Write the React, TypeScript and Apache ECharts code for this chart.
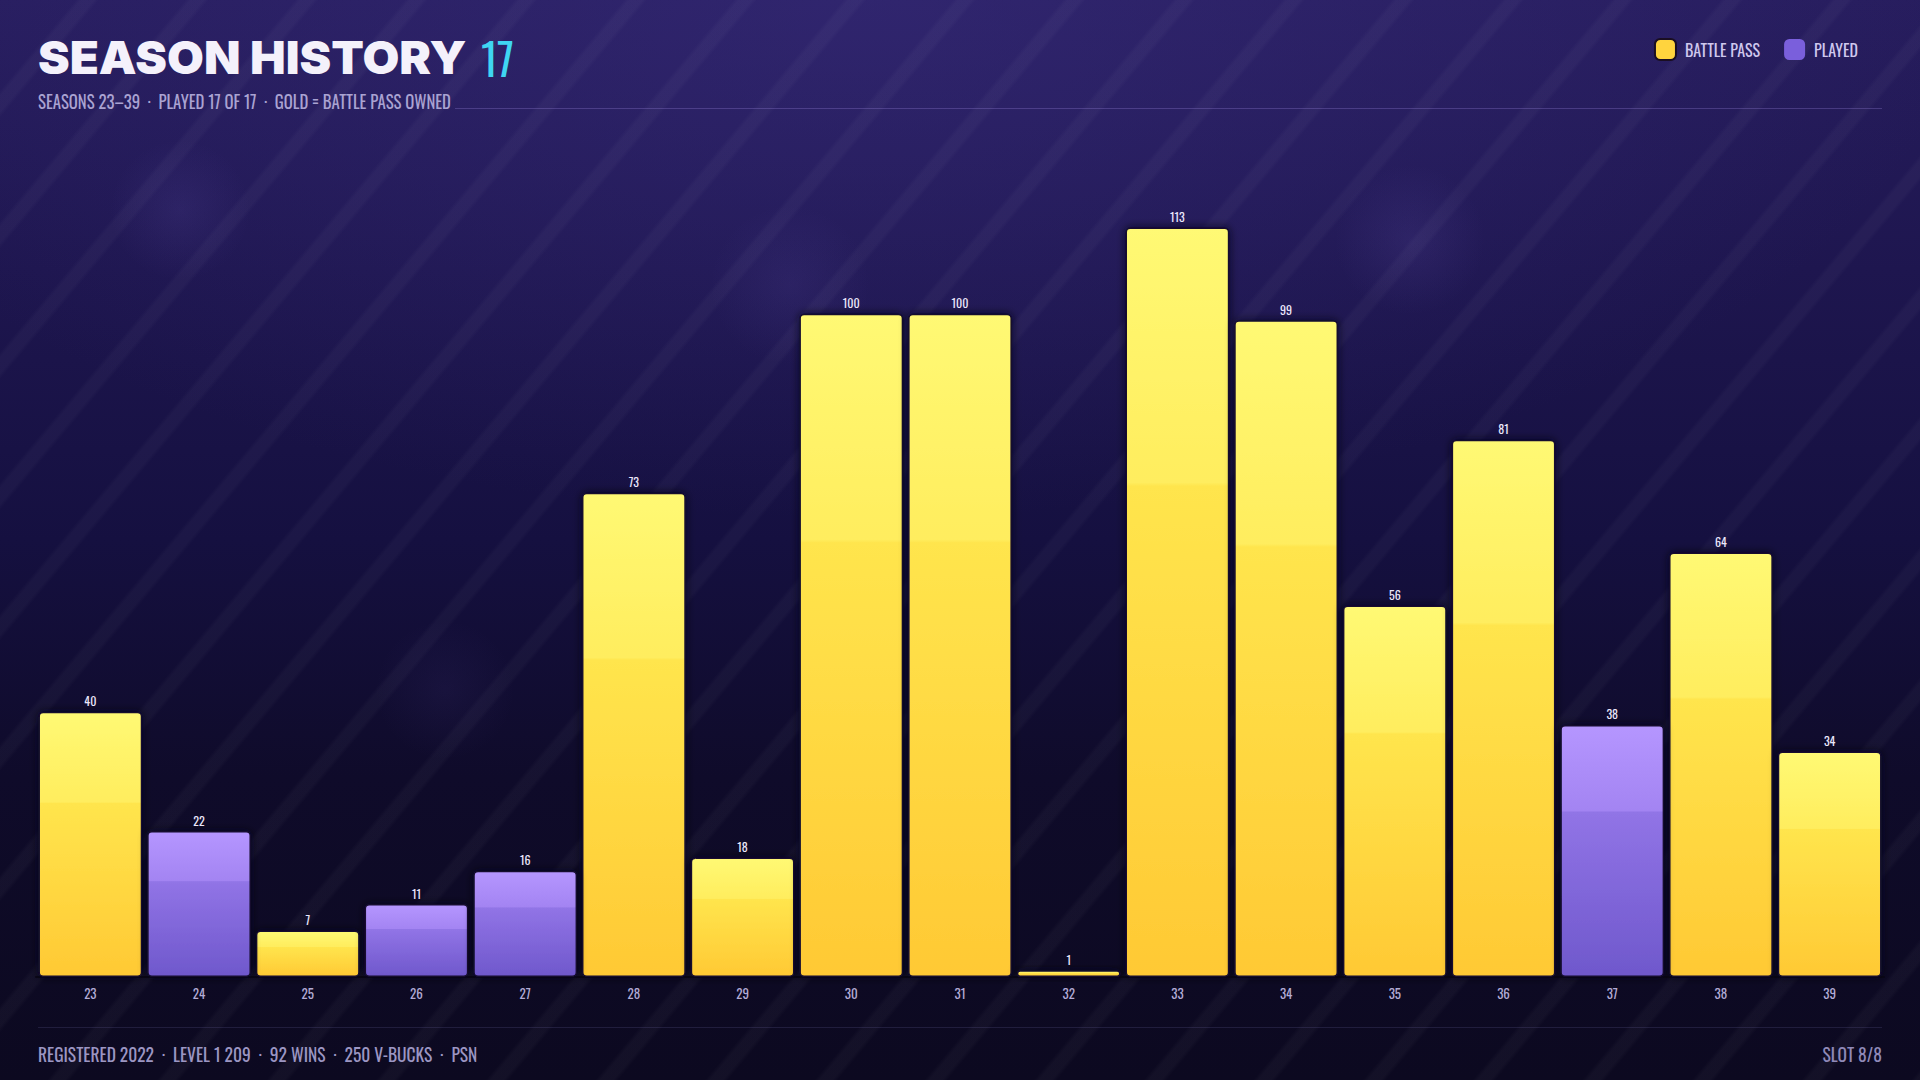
import React, { useEffect, useRef } from "react";
import * as echarts from "echarts";

const seasons = ["23", "24", "25", "26", "27", "28", "29", "30", "31", "32", "33", "34", "35", "36", "37", "38", "39"];
const levels = [40, 22, 7, 11, 16, 73, 18, 100, 100, 1, 113, 99, 56, 81, 38, 64, 34];
const battlePassOwned = [true, false, true, false, false, true, true, true, true, true, true, true, true, true, false, true, true];
const legendNames = ["BATTLE PASS", "PLAYED"];
const titleText = "SEASON HISTORY";
const titleCount = "17";
const subtitleText = "SEASONS 23–39  ·  PLAYED 17 OF 17  ·  GOLD = BATTLE PASS OWNED";
const footerText = "REGISTERED 2022  ·  LEVEL 1 209  ·  92 WINS  ·  250 V-BUCKS  ·  PSN";
const footerRight = "SLOT 8/8";

const NARROW = "'Oswald', 'Liberation Sans Narrow', 'Arial Narrow', 'DejaVu Sans Condensed', sans-serif";

export default function App() {
  const ref = useRef<HTMLDivElement>(null);

  useEffect(() => {
    if (!ref.current) return;
    const chart = echarts.init(ref.current, undefined, { renderer: "svg" });

    const bpData = levels.map((v, i) => (battlePassOwned[i] ? v : "-"));
    const playedData = levels.map((v, i) => (battlePassOwned[i] ? "-" : v));

    const gold = new echarts.graphic.LinearGradient(0, 0, 0, 1, [
      { offset: 0, color: "#fff974" },
      { offset: 0.34, color: "#ffed5e" },
      { offset: 0.345, color: "#ffe54d" },
      { offset: 1, color: "#ffc934" },
    ]);
    const purple = new echarts.graphic.LinearGradient(0, 0, 0, 1, [
      { offset: 0, color: "#b596ff" },
      { offset: 0.34, color: "#a384f2" },
      { offset: 0.345, color: "#9174e6" },
      { offset: 1, color: "#6f58cc" },
    ]);

    const barStyle = (color: any) => ({
      color,
      borderColor: "#150d2e",
      borderWidth: 1.5,
      borderRadius: 4,
      shadowColor: "rgba(6,3,18,0.85)",
      shadowBlur: 8,
    });

    const label = {
      show: true,
      position: "top" as const,
      distance: 5,
      color: "#ebe7fb",
      fontSize: 12,
      fontFamily: NARROW,
    };

    chart.setOption({
      animation: false,
      backgroundColor: "transparent",
      legend: {
        data: [
          { name: legendNames[0], itemStyle: { color: "#ffd43e", borderColor: "#1a0e22", borderWidth: 2 } },
          { name: legendNames[1], itemStyle: { color: "#7a5fdc", borderWidth: 0 } },
        ],
        right: 57,
        top: 33,
        icon: "roundRect",
        itemWidth: 21,
        itemHeight: 21,
        itemGap: 24,
        textStyle: { color: "#cfc8ee", fontSize: 16, fontFamily: NARROW, padding: [0, 0, 0, 4] },
      },
      grid: { left: 36, right: 36, top: 181, bottom: 103, containLabel: false },
      xAxis: {
        type: "category",
        data: seasons,
        axisLine: { show: true, lineStyle: { color: "#0a0718", width: 2 } },
        axisTick: { show: false },
        axisLabel: { color: "#b3acd6", fontSize: 13, fontFamily: NARROW, margin: 9 },
      },
      yAxis: {
        type: "value",
        min: 0,
        max: 120,
        show: false,
        splitLine: { show: false },
      },
      series: [
        {
          name: legendNames[0],
          type: "bar",
          stack: "s",
          data: bpData,
          barCategoryGap: "4.5%",
          itemStyle: barStyle(gold),
          label,
        },
        {
          name: legendNames[1],
          type: "bar",
          stack: "s",
          data: playedData,
          barCategoryGap: "4.5%",
          itemStyle: barStyle(purple),
          label,
        },
      ],
      graphic: [
        {
          type: "text",
          x: 38,
          y: 57,
          scaleX: 1.035,
          style: {
            text: titleText,
            font: "900 46px Inter, 'Noto Sans', sans-serif",
            fill: "#f4f1fb",
            verticalAlign: "middle",
          },
        },
        {
          type: "text",
          x: 481,
          y: 57,
          style: {
            text: titleCount,
            font: `44px ${NARROW}`,
            fill: "#3fd6f2",
            verticalAlign: "middle",
          },
        },
        {
          type: "text",
          x: 38,
          y: 101,
          scaleX: 0.93,
          style: {
            text: subtitleText,
            font: `18px ${NARROW}`,
            fill: "#aaa3d2",
            verticalAlign: "middle",
          },
        },
        {
          type: "line",
          shape: { x1: 455, y1: 108.5, x2: 1882, y2: 108.5 },
          style: { stroke: "rgba(160,140,230,0.28)", lineWidth: 1 },
        },
        {
          type: "line",
          shape: { x1: 38, y1: 1027.5, x2: 1882, y2: 1027.5 },
          style: { stroke: "rgba(130,120,190,0.18)", lineWidth: 1 },
        },
        {
          type: "text",
          x: 38,
          y: 1053,
          scaleX: 0.92,
          style: {
            text: footerText,
            font: `19px ${NARROW}`,
            fill: "#9c96c3",
            verticalAlign: "middle",
          },
        },
        {
          type: "text",
          x: 1882,
          y: 1053,
          scaleX: 0.92,
          style: {
            text: footerRight,
            font: `19px ${NARROW}`,
            fill: "#8f89b8",
            align: "right",
            verticalAlign: "middle",
          },
        },
      ],
    });

    return () => chart.dispose();
  }, []);

  const bg = [
    "repeating-linear-gradient(130deg, rgba(255,255,255,0) 0px, rgba(255,255,255,0) 58px, rgba(255,255,255,0.03) 62px, rgba(255,255,255,0.03) 72px, rgba(255,255,255,0) 76px, rgba(255,255,255,0) 84px)",
    "radial-gradient(circle at 180px 210px, rgba(120,100,200,0.12), rgba(0,0,0,0) 70px)",
    "radial-gradient(circle at 790px 285px, rgba(120,100,200,0.10), rgba(0,0,0,0) 80px)",
    "radial-gradient(circle at 1410px 240px, rgba(120,100,200,0.13), rgba(0,0,0,0) 75px)",
    "radial-gradient(circle at 445px 690px, rgba(120,100,200,0.07), rgba(0,0,0,0) 70px)",
    "radial-gradient(ellipse 1100px 520px at 45% 0%, rgba(62,50,135,0.40), rgba(0,0,0,0))",
    "linear-gradient(180deg, #271d5e 0%, #1e164f 25%, #151040 50%, #0f0b2a 72%, #0c0920 100%)",
  ].join(", ");

  return (
    <div
      style={{
        position: "fixed",
        left: 0,
        top: 0,
        width: 1920,
        height: 1080,
        background: bg,
        overflow: "hidden",
      }}
    >
      <div ref={ref} style={{ width: 1920, height: 1080 }} />
    </div>
  );
}
